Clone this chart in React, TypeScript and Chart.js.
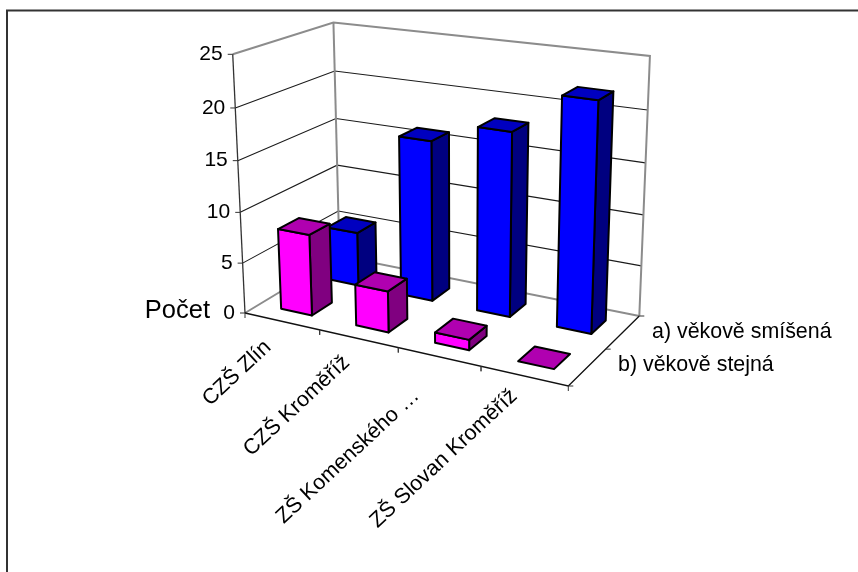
import React, { useEffect, useRef } from "react";
import { Chart, registerables } from "chart.js";

Chart.register(...registerables);

const categories = ["CZŠ Zlín", "CZŠ Kroměříž", "ZŠ Komenského …", "ZŠ Slovan Kroměříž"];
const seriesNames = ["a) věkově smíšená", "b) věkově stejná"];
const mixedAge = [5.5, 16, 18, 22];
const sameAge = [8, 4, 1, 0];
const axisTitle = "Počet";
const maxValue = 25;
const stepValue = 5;

type Pt = [number, number];

// Projection calibration of the 3D box (floor and ceiling corners, vertical vanishing point).
const FLOOR: Pt[] = [[245, 313], [568.3, 386], [639.3, 316], [339.5, 256]];
const CEIL: Pt[] = [[232.7, 54.3], [576, 100], [650, 56], [332, 22.5]];
const VANISH: Pt = [457, 4780];
const PERSP = -0.045;
const BAR_RATIO = 1 / 2.4;
const FONT = '"Liberation Sans", Arial, sans-serif';
const LABEL_OFFSETS: Pt[] = [[-14, 23], [-12, 21], [-23, 36], [-10, 17]];
const SERIES_POS: Pt[] = [[652, 332], [618, 365]];

const COLORS = {
  back: { front: "#0000FF", side: "#000080", top: "#0000C0" },
  near: { front: "#FF00FF", side: "#800080", top: "#B000B0" },
};

function homography(q: Pt[]) {
  const [p00, p10, p11, p01] = q;
  const dx1 = p10[0] - p11[0], dx2 = p01[0] - p11[0], sx = p00[0] - p10[0] + p11[0] - p01[0];
  const dy1 = p10[1] - p11[1], dy2 = p01[1] - p11[1], sy = p00[1] - p10[1] + p11[1] - p01[1];
  const det = dx1 * dy2 - dx2 * dy1;
  const g = (sx * dy2 - dx2 * sy) / det;
  const h = (dx1 * sy - sx * dy1) / det;
  const a = p10[0] - p00[0] + g * p10[0];
  const b = p01[0] - p00[0] + h * p01[0];
  const d = p10[1] - p00[1] + g * p10[1];
  const e = p01[1] - p00[1] + h * p01[1];
  return (u: number, v: number): Pt => {
    const w = 1 + g * u + h * v;
    return [(p00[0] + a * u + b * v) / w, (p00[1] + d * u + e * v) / w];
  };
}
const floorAt = homography(FLOOR);
const ceilAt = homography(CEIL);
function project(u: number, d: number, h: number): Pt {
  const f = floorAt(u, d), t = ceilAt(u, d);
  const k = (h * (1 + PERSP)) / (1 + PERSP * h);
  const y = f[1] + (t[1] - f[1]) * k;
  const x = f[0] + ((f[0] - VANISH[0]) * (f[1] - y)) / (VANISH[1] - f[1]);
  return [x, y];
}

function line(ctx: CanvasRenderingContext2D, pts: Pt[], color: string, width: number) {
  ctx.beginPath();
  pts.forEach((p, i) => (i ? ctx.lineTo(p[0], p[1]) : ctx.moveTo(p[0], p[1])));
  ctx.strokeStyle = color;
  ctx.lineWidth = width;
  ctx.stroke();
}
function face(ctx: CanvasRenderingContext2D, pts: Pt[], fill: string) {
  ctx.beginPath();
  pts.forEach((p, i) => (i ? ctx.lineTo(p[0], p[1]) : ctx.moveTo(p[0], p[1])));
  ctx.closePath();
  ctx.fillStyle = fill;
  ctx.fill();
  ctx.strokeStyle = "#000000";
  ctx.lineWidth = 2;
  ctx.lineJoin = "round";
  ctx.stroke();
}

const box3d = {
  id: "box3d",
  afterDatasetsDraw(chart: any) {
    const ctx: CanvasRenderingContext2D = chart.ctx;
    const yScale = chart.scales.y;
    const xScale = chart.scales.x;
    const hOf = (v: number) => (yScale.bottom - yScale.getPixelForValue(v)) / (yScale.bottom - yScale.top);
    const uOf = (px: number) => (px - xScale.left) / (xScale.right - xScale.left);
    ctx.save();

    // Outer chart frame
    line(ctx, [[7, 572], [7, 10.5], [858, 10.5]], "#333333", 2);

    // Walls and gridlines
    const ticks = yScale.ticks.map((t: any) => t.value);
    ticks.forEach((v: number) => {
      const h = hOf(v);
      if (v > 0 && v < maxValue) {
        line(ctx, [project(0, 0, h), project(0, 1, h), project(1, 1, h)], "#1a1a1a", 1.1);
      }
    });
    const GREY = "#8c8c8c";
    line(ctx, [project(0, 0, 0), project(0, 1, 0), project(1, 1, 0)], GREY, 2);
    line(ctx, [project(0, 0, 1), project(0, 1, 1), project(1, 1, 1), project(1, 1, 0)], GREY, 2);
    line(ctx, [project(0, 1, 0), project(0, 1, 1)], GREY, 2);

    // Axes
    line(ctx, [project(0, 0, 0), project(0, 0, 1)], "#333333", 1.3);
    line(ctx, [project(0, 0, 0), project(1, 0, 0), project(1, 1, 0)], "#111111", 1.3);

    // Bars: back row first, then the near row
    [0, 1].forEach((k) => {
      const meta = chart.getDatasetMeta(k);
      const c = k === 0 ? COLORS.back : COLORS.near;
      const dc = k === 0 ? 0.75 : 0.25;
      const dh = (BAR_RATIO / 2) * 0.5;
      meta.data.forEach((el: any) => {
        const u0 = uOf(el.x - el.width / 2), u1 = uOf(el.x + el.width / 2);
        const h = (el.base - el.y) / (yScale.bottom - yScale.top);
        const d0 = dc - dh, d1 = dc + dh;
        if (h > 0) {
          face(ctx, [project(u1, d0, 0), project(u1, d1, 0), project(u1, d1, h), project(u1, d0, h)], c.side);
          face(ctx, [project(u0, d0, 0), project(u1, d0, 0), project(u1, d0, h), project(u0, d0, h)], c.front);
        }
        face(ctx, [project(u0, d0, h), project(u1, d0, h), project(u1, d1, h), project(u0, d1, h)], c.top);
      });
    });

    // Ticks
    ticks.forEach((v: number) => {
      const p = project(0, 0, hOf(v));
      line(ctx, [p, [p[0] - 5, p[1]]], "#333333", 1);
    });
    categories.forEach((_, i) => {
      [i, i + 1].forEach((j) => {
        const p = project(j / categories.length, 0, 0);
        line(ctx, [p, [p[0], p[1] + 5]], "#333333", 1);
      });
    });
    [0, 0.5, 1].forEach((d) => {
      const p = project(1, d, 0);
      line(ctx, [p, [p[0] + 5, p[1]]], "#333333", 1);
    });

    // Text
    ctx.fillStyle = "#000000";
    ctx.font = `21px ${FONT}`;
    ctx.textAlign = "right";
    ctx.textBaseline = "middle";
    ticks.forEach((v: number) => {
      const p = project(0, 0, hOf(v));
      ctx.fillText(String(v), p[0] - 10, p[1]);
    });
    ctx.font = `25.5px ${FONT}`;
    ctx.fillText(axisTitle, 210, 311);

    ctx.font = `21.5px ${FONT}`;
    categories.forEach((label, i) => {
      const p = project(uOf(xScale.getPixelForValue(i)), 0, 0);
      const o = LABEL_OFFSETS[i];
      ctx.save();
      ctx.translate(p[0] + o[0], p[1] + o[1]);
      ctx.rotate((-43 * Math.PI) / 180);
      ctx.textAlign = "right";
      ctx.fillText(label, 0, 0);
      ctx.restore();
    });

    ctx.textAlign = "left";
    ctx.font = `21.4px ${FONT}`;
    seriesNames.forEach((s, i) => ctx.fillText(s, SERIES_POS[i][0], SERIES_POS[i][1]));
    ctx.restore();
  },
};

export default function App() {
  const ref = useRef<HTMLCanvasElement>(null);
  useEffect(() => {
    const chart = new Chart(ref.current as HTMLCanvasElement, {
      type: "bar",
      data: {
        labels: categories,
        datasets: [
          { label: seriesNames[0], data: mixedAge, backgroundColor: "rgba(0,0,0,0)", borderWidth: 0 },
          { label: seriesNames[1], data: sameAge, backgroundColor: "rgba(0,0,0,0)", borderWidth: 0 },
        ],
      },
      options: {
        animation: false,
        responsive: false,
        maintainAspectRatio: false,
        events: [],
        layout: { padding: 0 },
        datasets: { bar: { grouped: false, categoryPercentage: 1, barPercentage: BAR_RATIO } },
        plugins: { legend: { display: false }, tooltip: { enabled: false }, title: { display: false } },
        scales: {
          x: { display: false },
          y: { display: false, min: 0, max: maxValue, ticks: { stepSize: stepValue } },
        },
      } as any,
      plugins: [box3d],
    });
    return () => chart.destroy();
  }, []);
  return (
    <div style={{ position: "fixed", left: 0, top: 0, width: 858, height: 572, background: "#fff" }}>
      <canvas ref={ref} width={858} height={572} style={{ display: "block" }} />
    </div>
  );
}
